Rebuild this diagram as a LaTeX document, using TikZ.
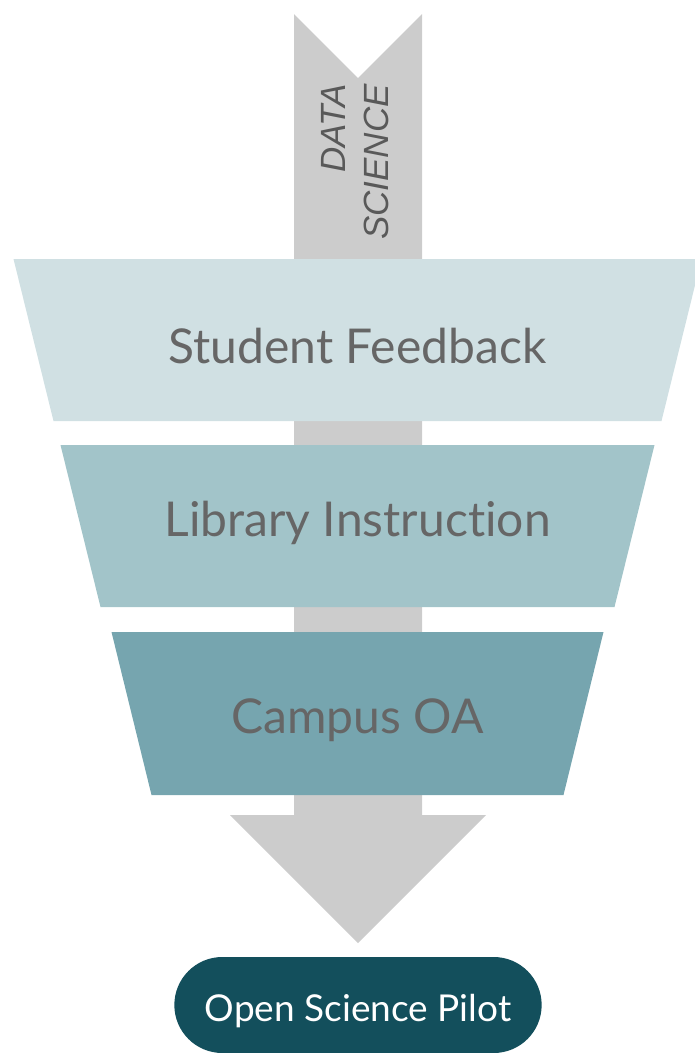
\documentclass[tikz,border=0pt]{standalone}
\usepackage{fontspec}
\setmainfont{Lato}[Ligatures={NoCommon,NoRare}]
\newfontfamily\tagfont{Liberation Sans}
\usetikzlibrary{shapes.misc,positioning}

\definecolor{arrowgray}{HTML}{CCCCCC}
\definecolor{bandA}{HTML}{D0E0E3}
\definecolor{bandB}{HTML}{A2C4C9}
\definecolor{bandC}{HTML}{76A5AF}
\definecolor{pilotteal}{HTML}{134F5C}
\definecolor{labelgray}{HTML}{666666}
\definecolor{taggray}{HTML}{595959}

\begin{document}
\begin{tikzpicture}[x=1pt,y=-1pt,
    bandlabel/.style={font=\fontsize{48}{57}\selectfont,text=labelgray,inner sep=0pt,anchor=base},
    pilot/.style={rounded rectangle,fill=pilotteal,text=white,minimum width=374pt,minimum height=96pt,
        text height=32pt,text depth=0pt,font=\fontsize{37}{44}\selectfont}]
\useasboundingbox (0,0) rectangle (694,1053);

% big arrow behind the funnel
\fill[arrowgray] (294,14) -- (358,78) -- (422,14) -- (422,815) -- (486,815)
    -- (358,943) -- (230,815) -- (294,815) -- cycle;
\node[rotate=90,align=right,text=taggray,inner sep=0pt,
    font=\tagfont\itshape\fontsize{35}{43}\selectfont] (tag) at (355,162) {DATA\\SCIENCE};

% funnel bands
\foreach \lbl/\col/\ytop/\ybot/\wtop/\wbot/\ybase [count=\n] in
    {Student Feedback/bandA/259/421/344/304/363,
     Library Instruction/bandB/445/607/297/257/536,
     Campus OA/bandC/632/795/246/206/733}
{
    \fill[\col] (357.5-\wtop,\ytop) -- (357.5+\wtop,\ytop) -- (357.5+\wbot,\ybot) -- (357.5-\wbot,\ybot) -- cycle;
    \node[bandlabel] (B\n) at (357.5,\ybase) {\lbl};
}

\node[pilot] (P) at (358,1005) {Open Science Pilot};
\end{tikzpicture}
\end{document}
